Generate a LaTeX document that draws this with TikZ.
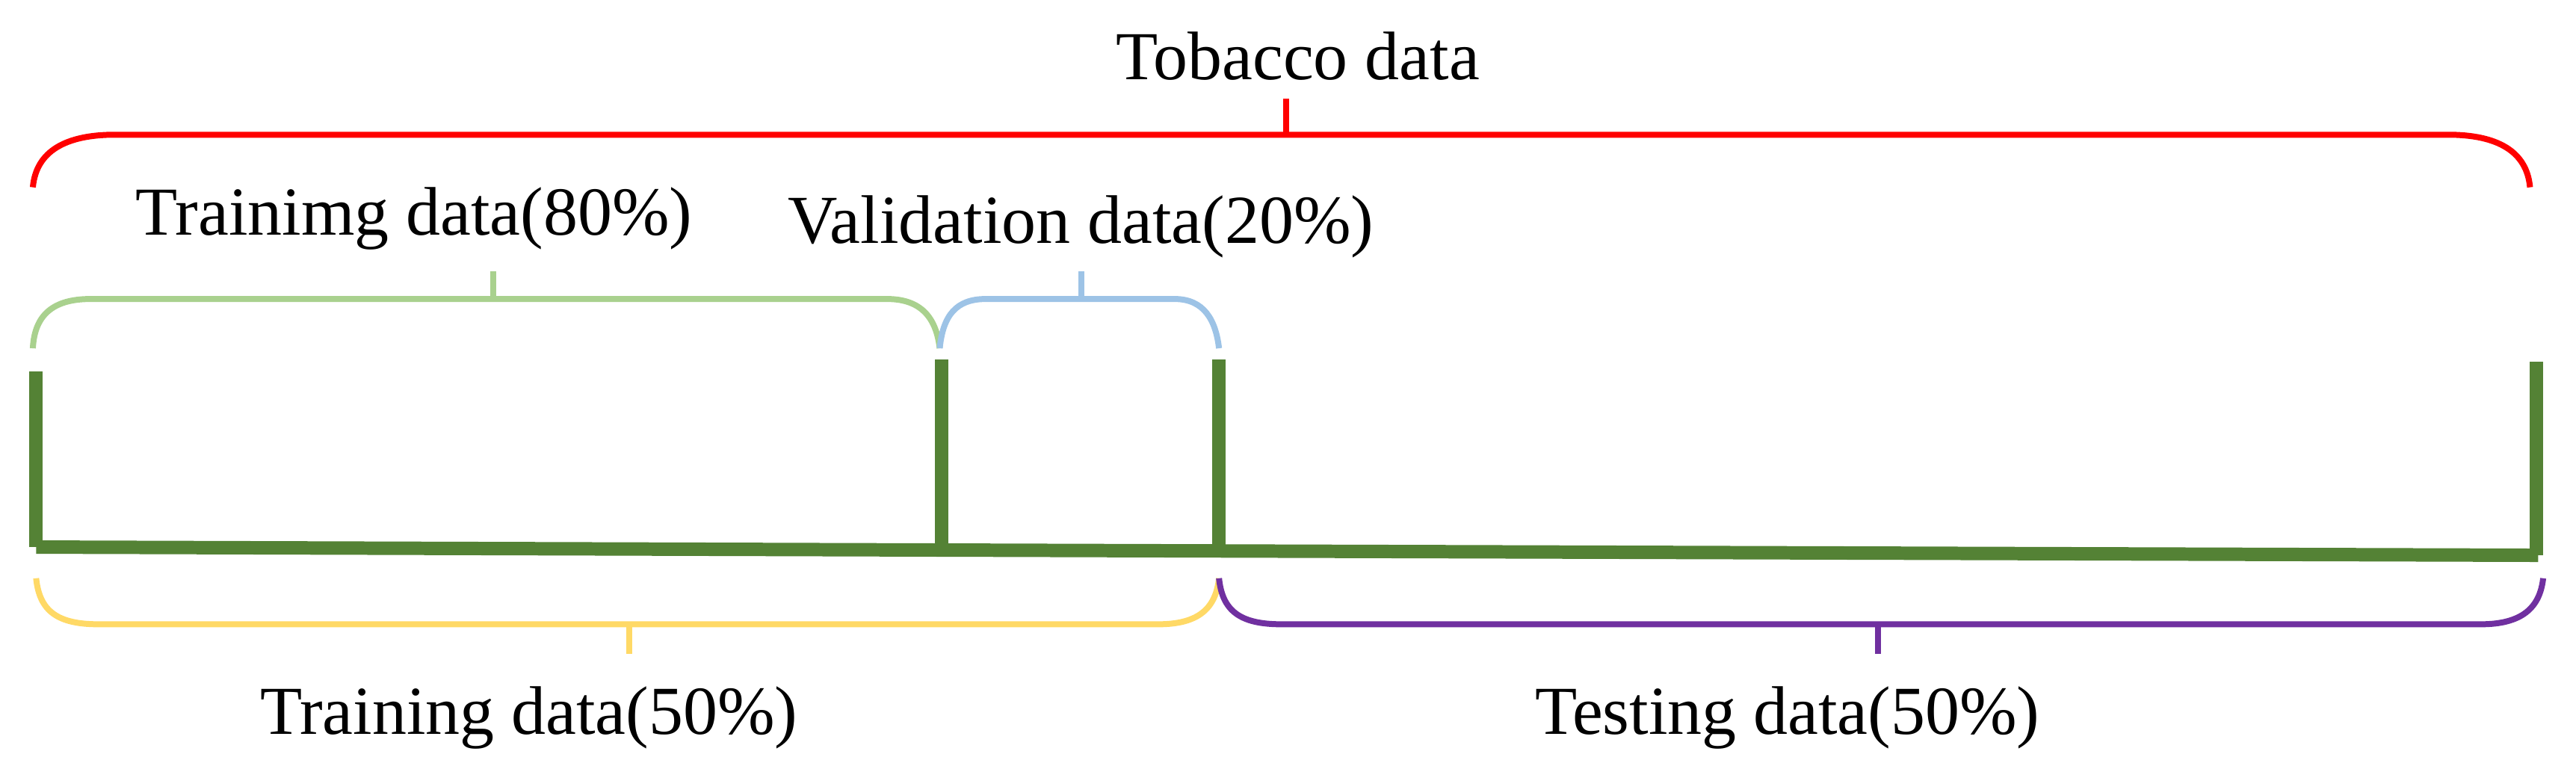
\documentclass[tikz,border=0pt]{standalone}
\usepackage{fontspec}
\setmainfont{Liberation Serif}
\begin{document}
\begin{tikzpicture}[x=2.2pt,y=-2.2pt,
  br/.style={line width=8pt},
  lbl/.style={font=\fontsize{92}{100}\selectfont, inner sep=0pt},
  bar/.style={line width=18pt, draw={rgb,255:red,84;green,130;blue,53}}]
\useasboundingbox (0,0) rectangle (1568,464);
\definecolor{cred}{RGB}{255,0,0}
\definecolor{cgreen}{RGB}{169,209,142}
\definecolor{cblue}{RGB}{157,195,230}
\definecolor{cyel}{RGB}{255,217,102}
\definecolor{cpur}{RGB}{112,48,160}
% red
\draw[br,cred] (20,114) .. controls (22,92) and (40,82) .. (70,82) -- (1490,82) .. controls (1520,82) and (1538,92) .. (1540,114);
\draw[br,cred] (783,82) -- (783,60);
\node[lbl] (tob) at (790,34) {Tobacco data};
% green
\draw[br,cgreen] (20,212) .. controls (21,192) and (32,182) .. (55,182) -- (540,182) .. controls (562,182) and (570,195) .. (572,212);
\draw[br,cgreen] (300,182) -- (300,165);
\node[lbl] (tr80) at (252,133) {Trainimg data(80\%)};
% blue
\draw[br,cblue] (572,212) .. controls (574,192) and (582,182) .. (600,182) -- (715,182) .. controls (733,182) and (740,195) .. (742,212);
\draw[br,cblue] (658,182) -- (658,165);
\node[lbl] (val) at (658,138) {Validation data(20\%)};
% bar
\coordinate (b0) at (22,333);
\coordinate (b1) at (1545,338);
\draw[bar] (b0) -- (b1);
\draw[bar] (22,333) -- (22,226);
\draw[bar] (573,334) -- (573,219);
\draw[bar] (742,335) -- (742,219);
\draw[bar] (1544,338) -- (1544,220);
% yellow
\draw[br,cyel] (22,352) .. controls (24,372) and (35,380) .. (60,380) -- (705,380) .. controls (730,380) and (740,370) .. (742,352);
\draw[br,cyel] (383,380) -- (383,398);
\node[lbl] (tr50) at (322,437) {Training data(50\%)};
% purple
\draw[br,cpur] (742,352) .. controls (744,372) and (755,380) .. (780,380) -- (1510,380) .. controls (1535,380) and (1546,370) .. (1548,352);
\draw[br,cpur] (1143,380) -- (1143,398);
\node[lbl] (te50) at (1088,437) {Testing data(50\%)};
\end{tikzpicture}
\end{document}
